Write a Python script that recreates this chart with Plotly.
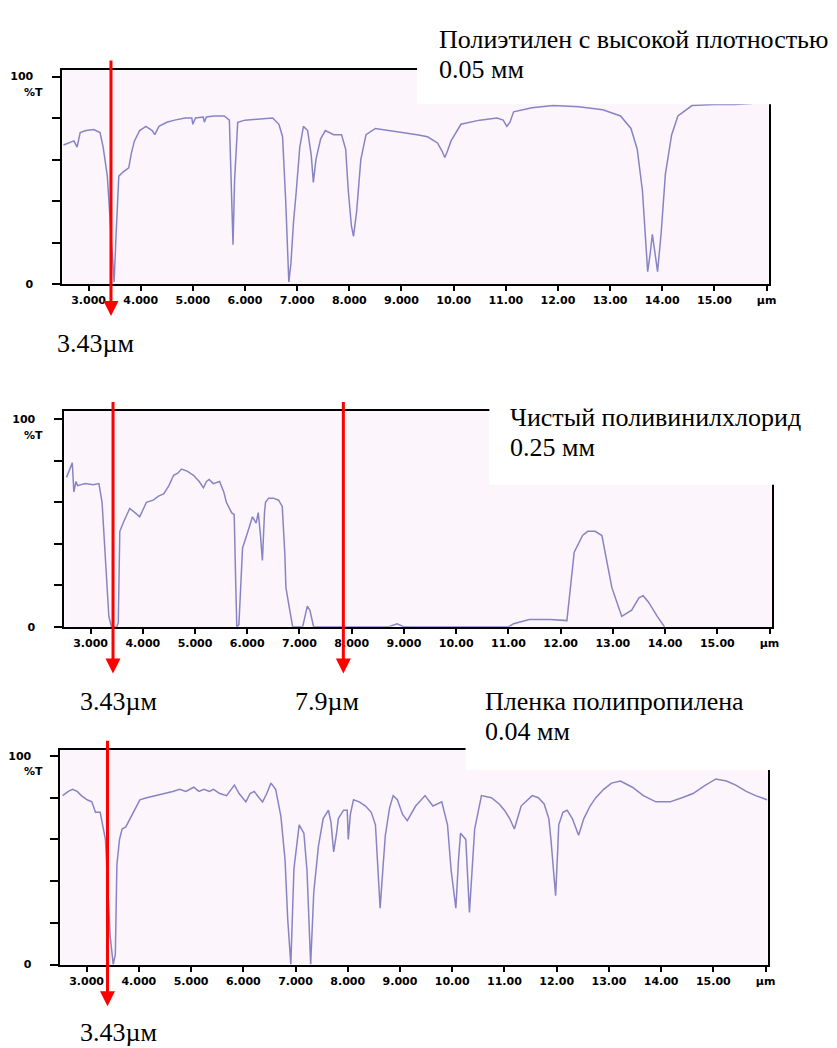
import plotly.graph_objects as go

W, H = 837, 1048

# ---------------- data ----------------
# Panel 1: high density polyethylene 0.05 mm
wl1 = [2.52, 2.62, 2.72, 2.78, 2.80, 2.84, 2.95, 3.10, 3.22, 3.28, 3.36, 3.44, 3.49, 3.53, 3.58,
       3.66, 3.77, 3.82, 3.88, 3.98, 4.10, 4.22, 4.27, 4.35, 4.50, 4.65, 4.85, 4.98, 5.00, 5.05,
       5.20, 5.22, 5.26, 5.40, 5.60, 5.70, 5.75, 5.77, 5.80, 5.86, 6.00, 6.30, 6.53, 6.65, 6.72,
       6.78, 6.84, 6.88, 6.93, 6.98, 7.05, 7.12, 7.20, 7.27, 7.31, 7.36, 7.45, 7.54, 7.70, 7.85,
       7.93, 7.98, 8.04, 8.08, 8.14, 8.22, 8.32, 8.50, 8.80, 9.06, 9.30, 9.50, 9.69, 9.78, 9.83,
       9.88, 9.95, 10.14, 10.50, 10.83, 10.95, 11.02, 11.08, 11.15, 11.50, 11.91, 12.40, 12.86,
       13.20, 13.40, 13.52, 13.62, 13.72, 13.77, 13.81, 13.86, 13.91, 13.98, 14.06, 14.18, 14.30,
       14.57, 15.00, 15.40, 15.71, 16.03]
t1 = [67, 68, 69, 66, 69, 73, 74, 74.5, 73, 66, 52, 20, 1, 25, 52,
      54, 56, 63, 69, 74, 76, 74, 72, 76, 78, 79, 80, 80, 77, 80,
      80.5, 78, 80.5, 81, 81, 79, 40, 19, 50, 78, 79, 79.5, 80, 77, 71,
      40, 1, 10, 30, 44, 66, 76, 74, 62, 49, 60, 70, 74, 72, 72,
      65, 45, 28, 23, 35, 60, 72, 75, 74, 73, 72, 71, 68, 64, 61,
      64, 69, 77, 79, 80, 79, 76, 78, 83, 85, 86, 85.5, 84,
      81, 75, 65, 45, 6, 15, 24, 15, 6, 25, 53, 72, 81,
      86, 86.5, 86.5, 87, 88]

# Panel 2: pure PVC 0.25 mm
wl2 = [2.54, 2.60, 2.65, 2.68, 2.72, 2.75, 2.90, 3.05, 3.16, 3.22, 3.28, 3.35, 3.40, 3.50, 3.53,
       3.56, 3.64, 3.70, 3.75, 3.85, 3.94, 4.07, 4.20, 4.30, 4.40, 4.50, 4.59, 4.67, 4.74, 4.85,
       4.97, 5.08, 5.16, 5.22, 5.27, 5.35, 5.47, 5.55, 5.60, 5.70, 5.75, 5.78, 5.80, 5.84, 5.91,
       6.00, 6.10, 6.17, 6.21, 6.25, 6.29, 6.33, 6.35, 6.41, 6.50, 6.60, 6.67, 6.72, 6.74, 6.80,
       6.87, 7.06, 7.15, 7.20, 7.27, 8.70, 8.87, 9.00, 11.00, 11.10, 11.40, 11.80, 12.12, 12.26,
       12.42, 12.52, 12.66, 12.79, 12.98, 13.17, 13.36, 13.50, 13.58, 13.68, 13.85, 13.99]
t2 = [72, 76, 79, 65, 70, 68, 69, 68.5, 69, 60, 32, 5, 0, 0, 2,
      46, 51, 54, 57, 55, 53, 60, 61, 63, 64, 68, 73, 74, 76, 75,
      73, 70, 67, 70, 71, 69, 70, 65, 60, 55, 54, 20, 0, 1, 38,
      45, 53, 50, 55, 45, 32, 55, 60, 62, 62, 61, 58, 35, 19, 10,
      0, 0, 10, 8, 0, 0, 1.5, 0, 0, 1.5, 3.5, 3.5, 3, 36,
      44, 46, 46, 44, 19, 5, 8, 14, 15, 12, 5, 0]

# Panel 3: polypropylene film 0.04 mm
wl3 = [2.54, 2.65, 2.73, 2.82, 2.90, 3.01, 3.10, 3.17, 3.26, 3.36, 3.45, 3.51, 3.55, 3.58, 3.63,
       3.68, 3.75, 3.83, 3.92, 4.02, 4.15, 4.34, 4.50, 4.65, 4.78, 4.90, 5.05, 5.15, 5.25, 5.35,
       5.43, 5.55, 5.68, 5.76, 5.83, 5.92, 6.05, 6.13, 6.21, 6.30, 6.37, 6.45, 6.53, 6.62, 6.72,
       6.80, 6.85, 6.91, 6.97, 7.07, 7.16, 7.22, 7.25, 7.29, 7.35, 7.44, 7.53, 7.63, 7.68, 7.73,
       7.78, 7.82, 7.92, 7.99, 8.01, 8.05, 8.11, 8.22, 8.34, 8.45, 8.53, 8.58, 8.62, 8.67, 8.72,
       8.80, 8.87, 8.95, 9.05, 9.14, 9.30, 9.48, 9.63, 9.80, 9.91, 9.98, 10.07, 10.12, 10.16,
       10.26, 10.30, 10.33, 10.38, 10.43, 10.56, 10.75, 10.90, 11.00, 11.10, 11.19, 11.25, 11.32,
       11.53, 11.65, 11.76, 11.85, 11.89, 11.95, 11.98, 12.02, 12.04, 12.12, 12.20, 12.30, 12.42,
       12.52, 12.64, 12.75, 12.90, 13.05, 13.22, 13.45, 13.66, 13.90, 14.17, 14.40, 14.61, 14.85,
       15.05, 15.25, 15.43, 15.63, 15.81, 16.03]
t3 = [81, 83, 84, 83, 81, 79, 78, 73, 73, 60, 14, 0, 5, 48, 60,
      65, 66, 70, 74, 79, 80, 81, 82, 83, 84, 83, 85, 83, 84, 83,
      84, 82, 81, 84, 86, 82, 78, 82, 83, 80, 78, 82, 87, 84, 71,
      50, 22, 0, 46, 67, 63, 45, 22, 0, 35, 57, 70, 74, 68, 54,
      62, 70, 74, 74, 60, 72, 79, 78, 76, 73, 67, 45, 27, 45, 62,
      75, 81, 79, 72, 69, 76, 81, 76, 78, 67, 45, 27, 50, 63,
      60, 40, 25, 45, 65, 81, 80, 77, 74, 70, 65, 70, 76,
      81, 80, 77, 70, 60, 40, 33, 55, 67, 73, 74, 70, 62,
      70, 76, 80, 84, 87, 88, 85, 81, 78, 78, 80, 82, 86,
      89, 88, 86, 83, 81, 79]

tick_vals = [3, 4, 5, 6, 7, 8, 9, 10, 11, 12, 13, 14, 15, 16]
tick_text = ["3.000", "4.000", "5.000", "6.000", "7.000", "8.000", "9.000",
             "10.00", "11.00", "12.00", "13.00", "14.00", "15.00", "µm"]
y_tick_vals = [0, 20, 40, 60, 80, 100]
y_tick_text = ["0", "", "", "", "", "100"]

titles = [["Полиэтилен с высокой плотностью", "0.05 мм"],
          ["Чистый поливинилхлорид", "0.25 мм"],
          ["Пленка полипропилена", "0.04 мм"]]
arrow_pos = [[3.43], [3.43, 7.84], [3.40]]
arrow_labels = [["3.43µм"], ["3.43µм", "7.9µм"], ["3.43µм"]]

# ---------------- layout geometry (pixels) ----------------
panels = [
    dict(x0=55, x1=768, ytop=62, ybot=278, y100=69, box=(413, 837, 0, 97),
         title_x=433, title_y=(32, 62), arr=(53, 310), lab_x=[88], lab_y=338, pct_y=85),
    dict(x0=57, x1=771, ytop=406, ybot=623, y100=414, box=(486, 810, 383, 480),
         title_x=505, title_y=(412, 442), arr=(397, 670), lab_x=[112, 322], lab_y=698, pct_y=430),
    dict(x0=53, x1=767, ytop=747, ybot=963, y100=753, box=(462, 805, 672, 767),
         title_x=480, title_y=(698, 728), arr=(738, 1005), lab_x=[112], lab_y=1031, pct_y=769),
]
data = [(wl1, t1), (wl2, t2), (wl3, t3)]

def px(x):
    return x / W

def py(y):
    return 1 - y / H

fig = go.Figure()
layout = dict(width=W, height=H, margin=dict(l=0, r=0, t=0, b=0),
              paper_bgcolor="white", plot_bgcolor="#fcf5fc", showlegend=False)
shapes, annotations = [], []
tickfont = dict(family="DejaVu Sans", size=11, color="black", weight="bold")
serif = dict(family="Liberation Serif", size=26, color="black")

for i, (p, (wl, tt)) in enumerate(zip(panels, data)):
    n = "" if i == 0 else str(i + 1)
    fig.add_trace(go.Scatter(x=wl, y=tt, mode="lines", xaxis="x" + n, yaxis="y" + n,
                             line=dict(color="#8884c4", width=1.5), hoverinfo="skip"))
    ymax = 100 * (p["ybot"] - p["ytop"]) / (p["ybot"] - p["y100"])
    layout["xaxis" + n] = dict(domain=[px(p["x0"]), px(p["x1"])], range=[2.5, 16.04],
                               anchor="y" + n, showgrid=False, zeroline=False,
                               showline=True, linecolor="black", linewidth=2, mirror=True,
                               ticks="outside", ticklen=5, tickwidth=1.5, tickcolor="black",
                               tickvals=tick_vals, ticktext=tick_text, tickfont=tickfont,
                               ticklabelstandoff=0)
    layout["yaxis" + n] = dict(domain=[py(p["ybot"]), py(p["ytop"])], range=[0, ymax],
                               anchor="x" + n, showgrid=False, zeroline=False,
                               showline=True, linecolor="black", linewidth=2, mirror=True,
                               ticks="outside", ticklen=8, tickwidth=1.5, tickcolor="black",
                               tickvals=y_tick_vals, ticktext=y_tick_text, tickfont=tickfont,
                               ticklabelstandoff=17)
    bx0, bx1, by0, by1 = p["box"]
    shapes.append(dict(type="rect", xref="paper", yref="paper", x0=px(bx0), x1=px(bx1),
                       y0=py(by1), y1=py(by0), fillcolor="white", line=dict(width=0),
                       layer="above"))
    for line_txt, ty in zip(titles[i], p["title_y"]):
        annotations.append(dict(text=line_txt, x=px(p["title_x"]), y=py(ty), xref="paper",
                                yref="paper", xanchor="left", yanchor="middle",
                                showarrow=False, font=serif))
    annotations.append(dict(text="%T", x=px(26), y=py(p["pct_y"]), xref="paper", yref="paper",
                            xanchor="center", yanchor="middle", showarrow=False, font=tickfont))
    tail, tip = p["arr"]
    for ax_wl, lab, lx in zip(arrow_pos[i], arrow_labels[i], p["lab_x"]):
        annotations.append(dict(text="", x=ax_wl, y=py(tip), xref="x" + n, yref="paper",
                                showarrow=True, ax=0, ay=tail - tip, arrowcolor="red",
                                arrowwidth=3, arrowhead=2, arrowsize=1.0, standoff=0))
        annotations.append(dict(text=lab, x=px(lx), y=py(p["lab_y"]), xref="paper",
                                yref="paper", xanchor="center", yanchor="middle",
                                showarrow=False, font=serif))

layout["shapes"] = shapes
layout["annotations"] = annotations
fig.update_layout(**layout)
fig.write_html("out.html")
